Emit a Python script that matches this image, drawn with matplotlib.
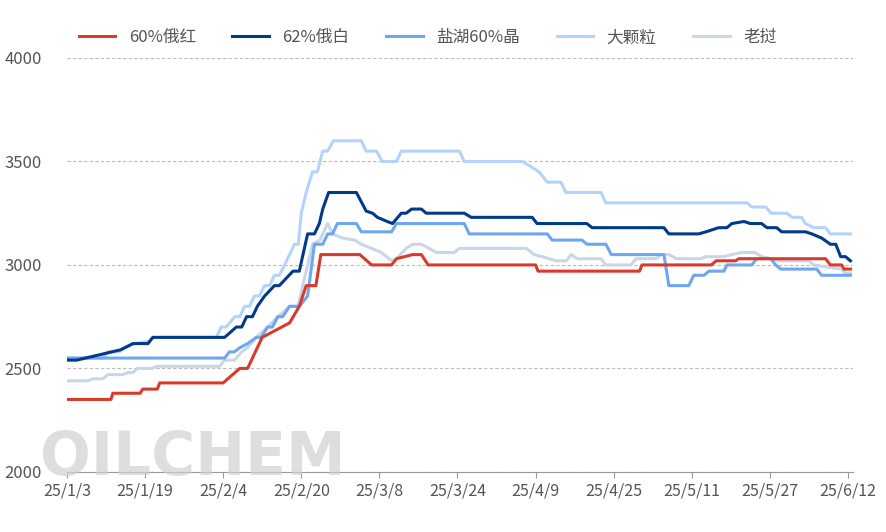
import matplotlib.pyplot as plt

plt.rcParams['font.family'] = ['Noto Sans CJK SC', 'DejaVu Sans']

# day offset from 25/1/3
tick_days = [0, 16, 32, 48, 64, 80, 96, 112, 128, 144, 160]
tick_labels = ["25/1/3", "25/1/19", "25/2/4", "25/2/20", "25/3/8", "25/3/24",
               "25/4/9", "25/4/25", "25/5/11", "25/5/27", "25/6/12"]

red_x = [0, 9, 9.4, 15, 15.5, 18.5, 19, 32, 35.4, 37, 39, 40, 45.6, 47.6, 49, 51, 52, 60, 62.4, 66.5, 67.5,
         70.8, 72.6, 74, 96, 96.5, 117.3, 117.8, 132, 133, 137, 137.6, 155.4, 156.4, 158.7, 159.2, 160.5]
red_y = [2350, 2350, 2380, 2380, 2400, 2400, 2430, 2430, 2500, 2500, 2600, 2650, 2720, 2800, 2900, 2900, 3050, 3050, 3000, 3000, 3030,
         3050, 3050, 3000, 3000, 2970, 2970, 3000, 3000, 3020, 3020, 3030, 3030, 3000, 3000, 2980, 2980]

navy_x = [0, 2, 7.4, 11, 13.5, 16.6, 17.6, 32.3, 34.7, 35.8, 36.8, 38, 39, 40.5, 42.5, 43.5, 46.3, 47.6, 49.3,
          50.7, 51.7, 52.4, 53.6, 59.3, 61.3, 62.6, 63.6, 65.6, 66.7, 68.5, 69.5, 70.6, 72.6, 73.6, 81.4, 82.8,
          95.3, 96.3, 106.5, 107.6, 122.3, 123.3, 129.4, 130.9, 133.5, 135.2, 136.2, 138.7, 140, 142.3, 143.4,
          145.4, 146.4, 151.3, 152.6, 154.6, 156.4, 157.5, 158.5, 159.5, 160.5]
navy_y = [2540, 2540, 2570, 2590, 2620, 2620, 2650, 2650, 2700, 2700, 2750, 2750, 2800, 2850, 2900, 2900, 2970, 2970, 3150,
          3150, 3200, 3270, 3350, 3350, 3260, 3250, 3230, 3210, 3200, 3250, 3250, 3270, 3270, 3250, 3250, 3230,
          3230, 3200, 3200, 3180, 3180, 3150, 3150, 3160, 3180, 3180, 3200, 3210, 3200, 3200, 3180,
          3180, 3160, 3160, 3150, 3130, 3100, 3100, 3040, 3040, 3020]

salt_x = [0, 32.3, 33.3, 34.3, 35.4, 37, 38.8, 39.8, 41.1, 42.1, 43.2, 44.2, 45.6, 47.6, 49.3, 50.7, 52.4, 53.4, 54.4,
          55.4, 59.3, 60.3, 66.5, 67.5, 81.4, 82.4, 98.4, 99.4, 105.5, 106.5, 110.4, 111.5, 122.3, 123.3, 127.4,
          128.4, 130.5, 131.5, 134.6, 135.2, 140.3, 141.3, 144.2, 145.2, 146.2, 153.6, 154.6, 160.5]
salt_y = [2550, 2550, 2580, 2580, 2600, 2620, 2650, 2650, 2700, 2700, 2750, 2750, 2800, 2800, 2850, 3100, 3100, 3150, 3150,
          3200, 3200, 3160, 3160, 3200, 3200, 3150, 3150, 3120, 3120, 3100, 3100, 3050, 3050, 2900, 2900,
          2950, 2950, 2970, 2970, 3000, 3000, 3030, 3030, 3000, 2980, 2980, 2950, 2950]

big_x = [0, 7.4, 8.4, 10.7, 11.9, 13.9, 16.6, 17.6, 30.6, 31.6, 32.6, 34.4, 35.4, 36.4, 37.4, 38.4, 39.4, 40.5,
         41.5, 42.5, 43.5, 44.6, 46.6, 47.4, 48, 49, 50.3, 51.3, 52.4, 53.4, 54.6, 60.3, 61.3, 63.4, 64.6, 67.5,
         68.5, 80.4, 81.4, 93.3, 94.7, 96.7, 98.4, 101.2, 102.2, 109.4, 110.4, 139.3, 140.3, 143.2, 144.2, 147.5,
         148.5, 150.5, 151.3, 153, 155.4, 156.4, 160.5]
big_y = [2550, 2550, 2580, 2580, 2600, 2620, 2630, 2650, 2650, 2700, 2700, 2750, 2750, 2800, 2800, 2850, 2850, 2900,
         2900, 2950, 2950, 3000, 3100, 3100, 3250, 3350, 3450, 3450, 3550, 3550, 3600, 3600, 3550, 3550, 3500, 3500,
         3550, 3550, 3500, 3500, 3480, 3450, 3400, 3400, 3350, 3350, 3300, 3300, 3280, 3280, 3250, 3250,
         3230, 3230, 3200, 3180, 3180, 3150, 3150]

laos_x = [0, 4.3, 5.4, 7.4, 8.4, 11.5, 12.5, 13.5, 14.5, 17.4, 18.4, 31.3, 32.3, 34.3, 35.8, 37, 38.8, 41.1, 43.2,
          44.2, 45.6, 47.3, 48.3, 50.3, 51.8, 53.4, 54.4, 56.4, 58.9, 60.3, 62.4, 64.4, 66.5, 67.5, 69.5, 70.8,
          72.6, 74.2, 75.7, 79.3, 80.4, 94.1, 95.7, 97.3, 100.2, 102.3, 103.3, 104.5, 109.4, 110.4, 115.5, 116.6,
          120.7, 121.7, 123.3, 124.9, 129.9, 130.9, 134.5, 136.2, 138.2, 140.9, 142.3, 144.2, 145.8, 152, 153,
          155.6, 158.7, 159.5, 160.5]
laos_y = [2440, 2440, 2450, 2450, 2470, 2470, 2480, 2480, 2500, 2500, 2510, 2510, 2540, 2540, 2580, 2600, 2650, 2700, 2750,
          2770, 2800, 2800, 2900, 3100, 3120, 3200, 3150, 3130, 3120, 3100, 3080, 3060, 3020, 3030, 3080, 3100,
          3100, 3080, 3060, 3060, 3080, 3080, 3050, 3040, 3020, 3020, 3050, 3030, 3030, 3000, 3000, 3030,
          3030, 3050, 3050, 3030, 3030, 3040, 3040, 3050, 3060, 3060, 3040, 3030, 3020, 3020, 3000,
          2990, 2980, 2960, 2960]

series = [
    ("60%俄红", red_x, red_y, "#d93a2b"),
    ("62%俄白", navy_x, navy_y, "#003a88"),
    ("盐湖60%晶", salt_x, salt_y, "#6ea6f2"),
    ("大颗粒", big_x, big_y, "#b4d3fc"),
    ("老挝", laos_x, laos_y, "#c9d6e8"),
]

fig = plt.figure(figsize=(8.87, 5.32), dpi=100)
ax = fig.add_axes([0.0755, 0.113, 0.886, 0.778])

# watermark
fig.text(0.045, 0.108, "OILCHEM", fontsize=43, color="#d0d0d0", family="DejaVu Sans",
         fontweight="bold", alpha=0.7, zorder=0)

for name, xs, ys, c in series[::-1]:
    ax.plot(xs, ys, color=c, lw=2.2, label=name, zorder=3)

ax.set_xlim(0, 161)
ax.set_ylim(2000, 4000)
ax.set_yticks([2000, 2500, 3000, 3500, 4000])
ax.set_xticks(tick_days)
ax.set_xticklabels(tick_labels)
ax.grid(axis="y", color="#bbbbbb", ls=(0, (3, 2)), lw=0.8)
for s in ["top", "right", "left"]:
    ax.spines[s].set_visible(False)
ax.spines["bottom"].set_color("#999999")
ax.tick_params(axis="y", length=0, labelsize=12, colors="#555555", pad=18)
ax.tick_params(axis="x", length=4, color="#999999", labelsize=11.5, colors="#555555")

h, l = ax.get_legend_handles_labels()
ax.legend(h[::-1], l[::-1], loc="lower left", bbox_to_anchor=(0.0, 1.0), ncol=5, frameon=False,
          fontsize=12, handlelength=2.2, columnspacing=2.2, labelcolor="#555555", borderaxespad=0.3)

fig.savefig("out.png")
